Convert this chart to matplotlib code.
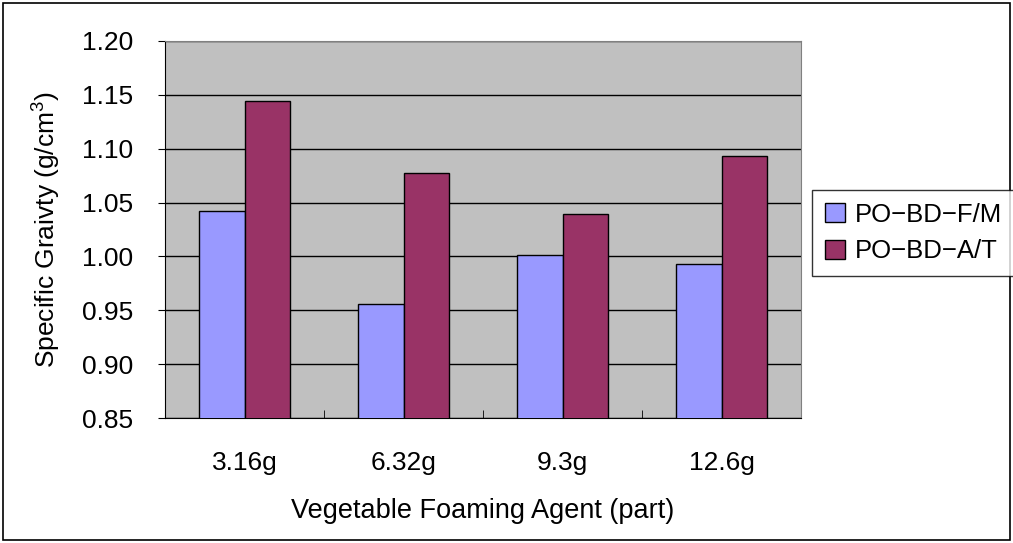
import numpy as np
import matplotlib
matplotlib.use('Agg')
import matplotlib.pyplot as plt
from matplotlib.patches import Rectangle

categories = ['3.16g', '6.32g', '9.3g', '12.6g']
series_names = ['PO\u2212BD\u2212F/M', 'PO\u2212BD\u2212A/T']
fm_values = [1.042, 0.956, 1.001, 0.993]
at_values = [1.144, 1.077, 1.039, 1.093]

COLORS = ['#9999FF', '#993366']
FS = 19

plt.rcParams['font.family'] = ['Liberation Sans', 'DejaVu Sans']
plt.rcParams['mathtext.fontset'] = 'custom'
plt.rcParams['mathtext.rm'] = 'Liberation Sans'

fig = plt.figure(figsize=(10.13, 5.43), dpi=100)
ax = fig.add_axes([165 / 1013, 1 - 418 / 543, 636 / 1013, 377 / 543])
ax.set_facecolor('#C0C0C0')

x = np.arange(len(categories))
width = 1 / 3.5
b1 = ax.bar(x - width / 2, fm_values, width, color=COLORS[0],
            edgecolor='black', linewidth=1, label=series_names[0], zorder=3)
b2 = ax.bar(x + width / 2, at_values, width, color=COLORS[1],
            edgecolor='black', linewidth=1, label=series_names[1], zorder=3)

yticks = np.arange(0.85, 1.201, 0.05)
ax.set_ylim(0.85, 1.20)
ax.set_xlim(-0.5, len(categories) - 0.5)
ax.set_yticks(yticks)
ax.set_yticklabels([f'{v:.2f}' for v in yticks], fontsize=FS)
ax.yaxis.grid(True, color='black', linewidth=1, zorder=1)
ax.set_axisbelow(True)

ax.set_xticks(x)
ax.set_xticklabels(categories, fontsize=FS)
ax.tick_params(axis='x', length=0, pad=24)
ax.set_xticks(np.arange(0.5, len(categories) - 0.5), minor=True)
ax.tick_params(axis='x', which='minor', direction='in', length=6, color='black')
ax.tick_params(axis='y', direction='out', length=5, pad=18)

for side in ['top', 'right']:
    ax.spines[side].set_color('#808080')
for side in ['left', 'bottom']:
    ax.spines[side].set_color('black')

ax.set_xlabel('Vegetable Foaming Agent (part)', fontsize=FS + 0.5, labelpad=16)
ax.set_ylabel('Specific Graivty (g/cm$^3$)', fontsize=FS, labelpad=14)

leg = fig.legend(handles=[b1, b2], loc='center left',
                 bbox_to_anchor=(812 / 1013, 1 - 233 / 543), fontsize=FS - 0.5,
                 frameon=True, fancybox=False, edgecolor='black',
                 handlelength=0.8, handleheight=0.8, handletextpad=0.35,
                 borderpad=0.5, labelspacing=0.5, borderaxespad=0)
leg.get_frame().set_linewidth(1)

# outer chart border
fig.patches.append(Rectangle((0.003, 0.005), 0.994, 0.99, transform=fig.transFigure,
                             fill=False, edgecolor='black', linewidth=1.2))

plt.savefig('out.png', dpi=100)
